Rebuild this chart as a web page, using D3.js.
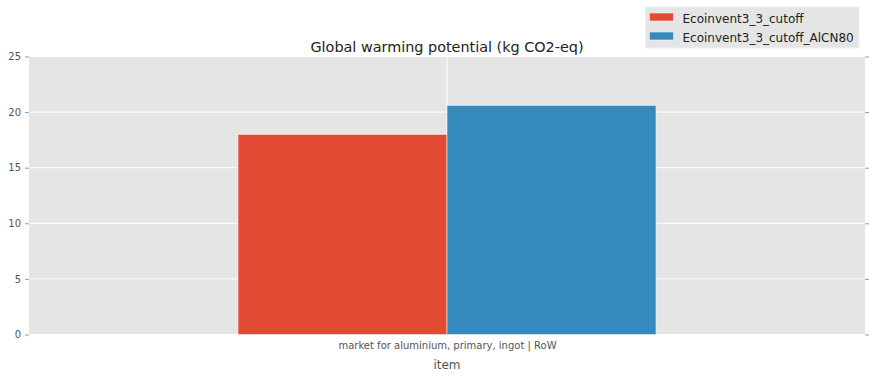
<!DOCTYPE html>
<html>
<head>
<meta charset="utf-8">
<script src="https://cdn.jsdelivr.net/npm/d3@7"></script>
<style>
  body { margin: 0; background: white; }
  text { font-family: "DejaVu Sans", sans-serif; }
</style>
</head>
<body>
<script>
//Data
var categories = ["market for aluminium, primary, ingot | RoW"];
var seriesNames = ["Ecoinvent3_3_cutoff", "Ecoinvent3_3_cutoff_AlCN80"];
var seriesValues = [[18.0], [20.6]];
var yTicks = [0, 5, 10, 15, 20, 25];

//Style
var w = 872, h = 379;
var colors = ["#E24A33", "#348ABD"];
var axesBg = "#E5E5E5";
var tickColor = "#555555";
var plotLeft = 29, plotRight = 865, plotTop = 56.5, plotBottom = 334.5;

var svg = d3.select("body").append("svg")
    .attr("width", w)
    .attr("height", h);

//Scales
var x = d3.scaleLinear().domain([-0.5, categories.length - 0.5]).range([plotLeft, plotRight]);
var y = d3.scaleLinear().domain([0, 25]).range([plotBottom, plotTop]);
var barW = 0.25;

//Axes background
svg.append("rect")
    .attr("x", plotLeft).attr("y", plotTop)
    .attr("width", plotRight - plotLeft).attr("height", plotBottom - plotTop)
    .attr("fill", axesBg);

//Grid
svg.selectAll(".hgrid").data(yTicks).enter().append("line")
    .attr("x1", plotLeft).attr("x2", plotRight)
    .attr("y1", function(d) { return y(d); }).attr("y2", function(d) { return y(d); })
    .attr("stroke", "white").attr("stroke-width", 1);
svg.selectAll(".vgrid").data(categories).enter().append("line")
    .attr("x1", function(d, i) { return x(i); }).attr("x2", function(d, i) { return x(i); })
    .attr("y1", plotTop).attr("y2", plotBottom)
    .attr("stroke", "white").attr("stroke-width", 1);

//Bars
seriesNames.forEach(function(name, s) {
    svg.selectAll(".bar" + s).data(seriesValues[s]).enter().append("rect")
        .attr("x", function(d, i) { return x(i - 0.25 + s * barW); })
        .attr("y", function(d) { return y(d); })
        .attr("width", x(barW) - x(0))
        .attr("height", function(d) { return y(0) - y(d); })
        .attr("fill", colors[s])
        .attr("stroke", "#f0f0f0")
        .attr("stroke-width", 0.6);
});

//Y axis ticks (left and right)
var yAxisL = d3.axisLeft(y).tickValues(yTicks).tickSize(4).tickPadding(4);
var gl = svg.append("g").attr("transform", "translate(" + plotLeft + ",0)").call(yAxisL);
var yAxisR = d3.axisRight(y).tickValues(yTicks).tickSize(4).tickFormat("");
var gr = svg.append("g").attr("transform", "translate(" + plotRight + ",0)").call(yAxisR);

//X axis
var xAxis = d3.axisBottom(x).tickValues(d3.range(categories.length))
    .tickFormat(function(d) { return categories[d]; }).tickSize(4).tickPadding(3);
var gx = svg.append("g").attr("transform", "translate(0," + plotBottom + ")").call(xAxis);

[gl, gr, gx].forEach(function(g) {
    g.select(".domain").remove();
    g.selectAll(".tick line").attr("stroke", "#999999");
    g.selectAll(".tick text").attr("fill", tickColor).style("font-size", "10px")
        .style("font-family", "DejaVu Sans, sans-serif");
});
gx.selectAll(".tick line").attr("y2", -4);

//Title
svg.append("text")
    .attr("x", (plotLeft + plotRight) / 2).attr("y", 52)
    .attr("text-anchor", "middle")
    .style("font-size", "14.4px")
    .attr("fill", "#222")
    .text("Global warming potential (kg CO2-eq)");

//X label
svg.append("text")
    .attr("x", (plotLeft + plotRight) / 2).attr("y", 369)
    .attr("text-anchor", "middle")
    .style("font-size", "12px")
    .attr("fill", tickColor)
    .text("item");

//Legend
var legend = svg.append("g").attr("transform", "translate(645.5,7)");
legend.append("rect")
    .attr("width", 213.5).attr("height", 41)
    .attr("fill", axesBg).attr("stroke", "#f0f0f0");
seriesNames.forEach(function(name, s) {
    legend.append("rect")
        .attr("x", 4).attr("y", 6 + s * 19)
        .attr("width", 24).attr("height", 8)
        .attr("fill", colors[s]).attr("stroke", "#f0f0f0").attr("stroke-width", 0.6);
    legend.append("text")
        .attr("x", 37).attr("y", 15.5 + s * 19)
        .style("font-size", "12px")
        .attr("fill", "#222")
        .text(name);
});
</script>
</body>
</html>
